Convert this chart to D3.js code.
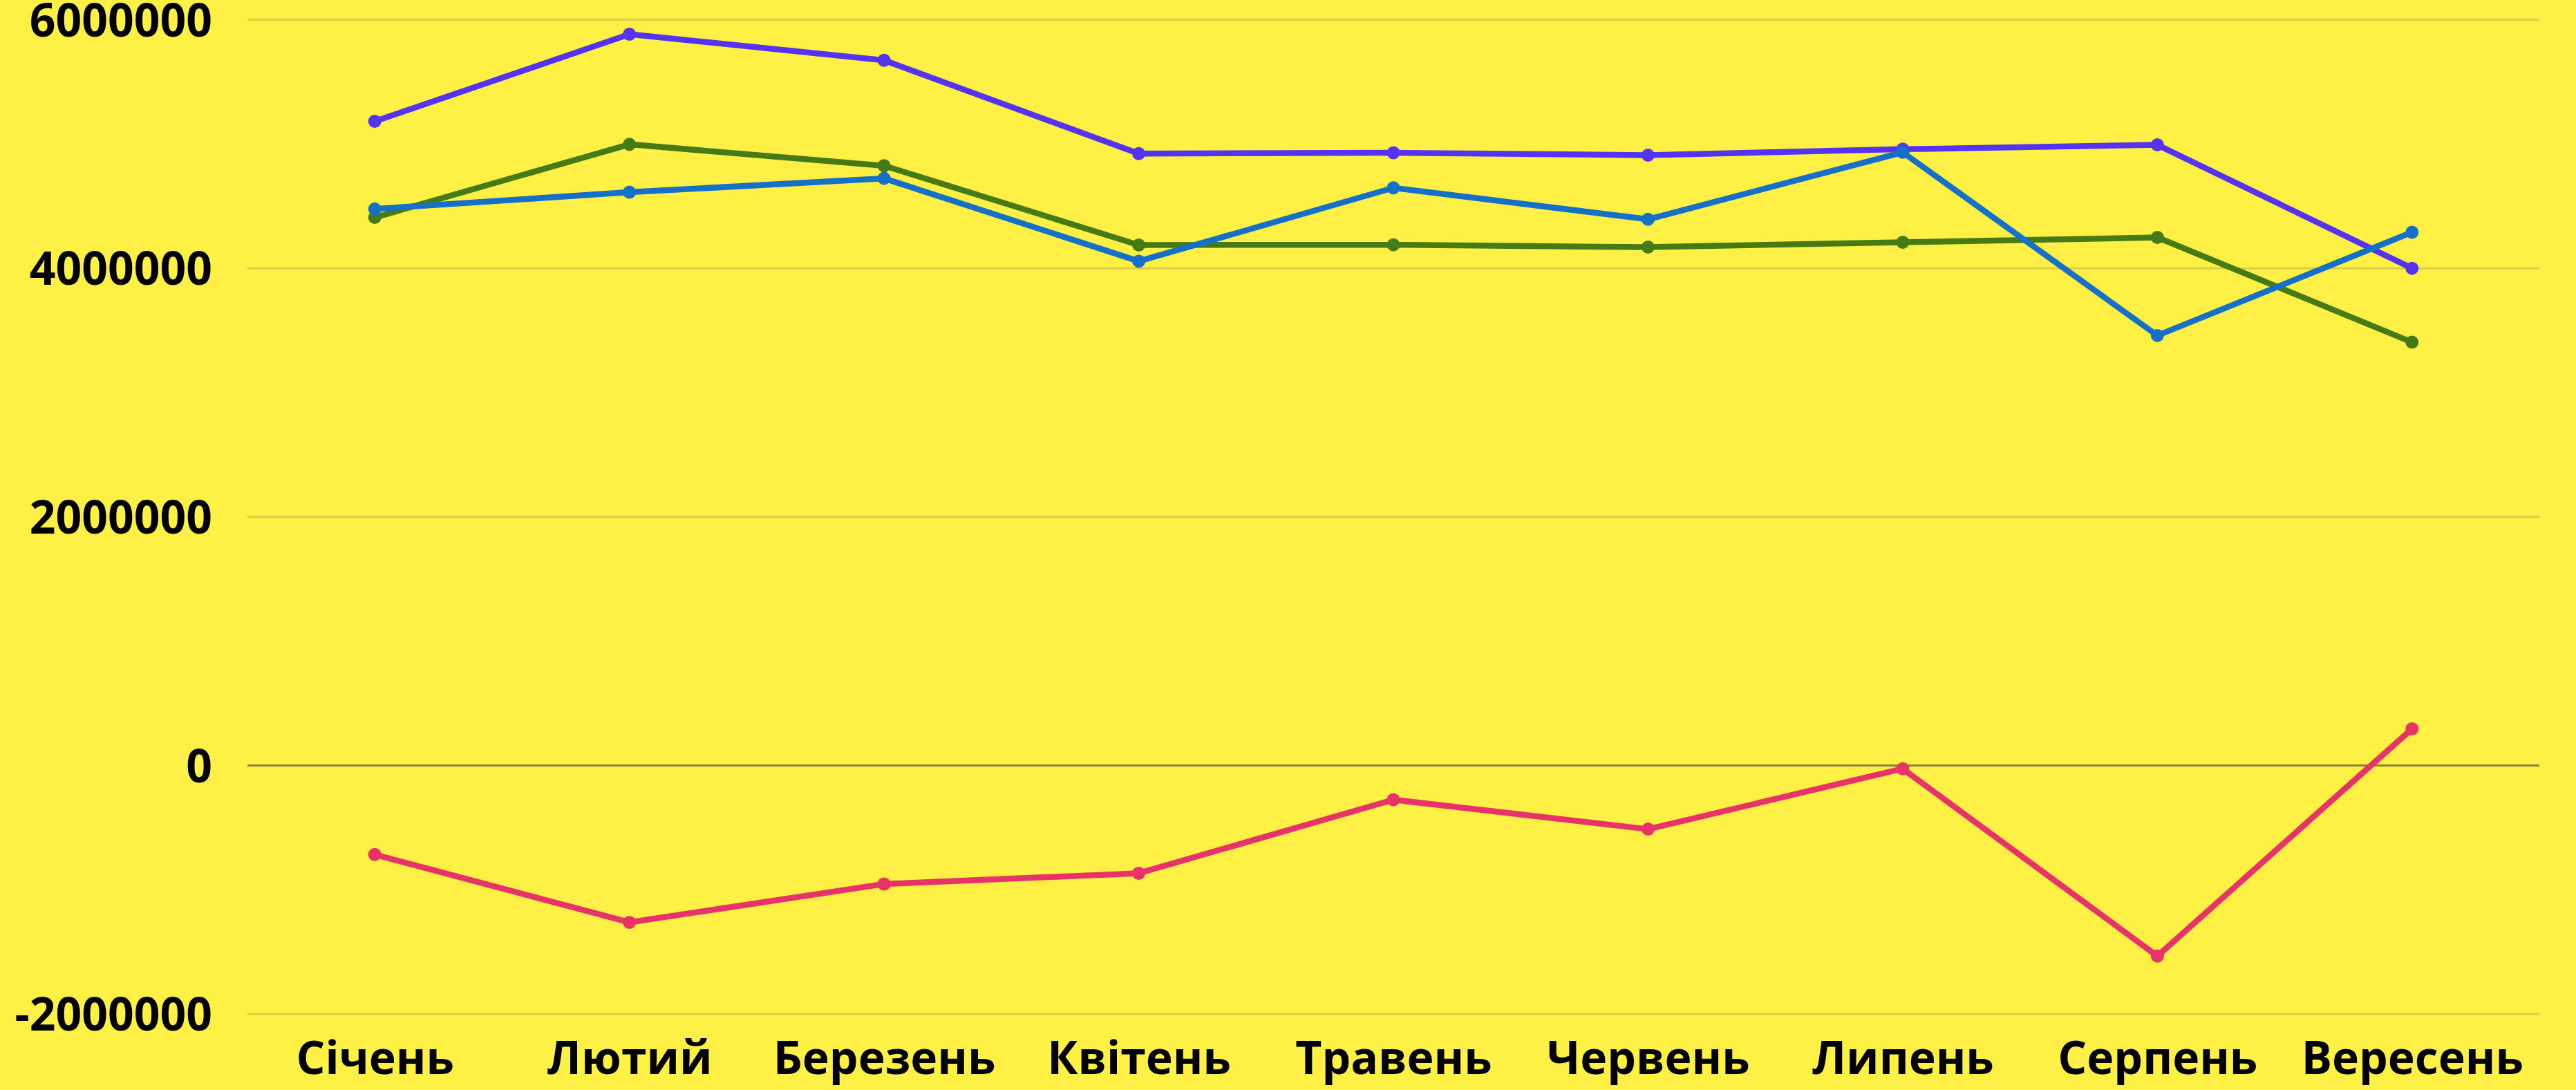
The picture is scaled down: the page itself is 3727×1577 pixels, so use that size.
<!DOCTYPE html>
<html>
<head>
<meta charset="utf-8">
<script src="https://cdn.jsdelivr.net/npm/d3@7"></script>
<style>
  html, body { margin: 0; padding: 0; background: #fff046; }
  svg { display: block; }
  text { font-family: "Open Sans", sans-serif; font-weight: 700; fill: #000; }
</style>
</head>
<body>
<script>
const months = ["Січень", "Лютий", "Березень", "Квітень", "Травень", "Червень", "Липень", "Серпень", "Вересень"];
const yTicks = [-2000000, 0, 2000000, 4000000, 6000000];
const seriesPurple = [5182000, 5883000, 5673000, 4923000, 4929000, 4910000, 4958000, 4993000, 4000000];
const seriesBlue   = [4477000, 4612000, 4723000, 4057000, 4647000, 4394000, 4933000, 3459000, 4290000];
const seriesGreen  = [4409000, 4997000, 4825000, 4187000, 4189000, 4170000, 4209000, 4248000, 3405000];
const seriesRed    = [-717000, -1263000, -954000, -868000, -276000, -513000, -27000, -1534000, 294000];

const W = 3727, H = 1577;
const svg = d3.select("body").append("svg").attr("width", W).attr("height", H);
svg.append("rect").attr("width", W).attr("height", H).attr("fill", "#fff046");

const x = d3.scalePoint().domain(months).range([358, 3674]).padding(0.5);
const y = d3.scaleLinear().domain([-2000000, 6000000]).range([1467, 28.5]);

// gridlines
svg.append("g").selectAll("line").data(yTicks).join("line")
  .attr("x1", 358).attr("x2", 3674)
  .attr("y1", d => y(d)).attr("y2", d => y(d))
  .attr("stroke", d => d === 0 ? "#8c8238" : "#d6ca45")
  .attr("stroke-width", d => d === 0 ? 3 : 2.5);

// y axis labels
const yAxis = d3.axisLeft(y).tickValues(yTicks).tickFormat(d => String(d)).tickSize(0).tickPadding(0);
const gy = svg.append("g").attr("transform", "translate(307,0)").call(yAxis);
gy.select(".domain").remove();
gy.selectAll("text").attr("font-size", 66).attr("font-family", "'Open Sans', sans-serif")
  .attr("font-weight", 700).attr("fill", "#000").attr("dy", "0.36em").attr("x", 0);

// x axis labels
const xAxis = d3.axisBottom(x).tickSize(0).tickPadding(0);
const gx = svg.append("g").attr("transform", "translate(0,1554)").call(xAxis);
gx.select(".domain").remove();
gx.selectAll("text").attr("font-size", 66).attr("font-family", "'Open Sans', sans-serif")
  .attr("font-weight", 700).attr("fill", "#000").attr("dy", 0).attr("y", 0);

const line = d3.line().x((d, i) => x(months[i])).y(d => y(d));
const series = [
  { vals: seriesPurple, color: "#5533f2" },
  { vals: seriesGreen,  color: "#457a14" },
  { vals: seriesBlue,   color: "#1470c8" },
  { vals: seriesRed,    color: "#e8336a" }
];
series.forEach(s => {
  const g = svg.append("g");
  g.append("path").datum(s.vals).attr("d", line)
    .attr("fill", "none").attr("stroke", s.color).attr("stroke-width", 8.5)
    .attr("stroke-linejoin", "round");
  g.selectAll("circle").data(s.vals).join("circle")
    .attr("cx", (d, i) => x(months[i])).attr("cy", d => y(d))
    .attr("r", 9.5).attr("fill", s.color);
});
</script>
</body>
</html>
